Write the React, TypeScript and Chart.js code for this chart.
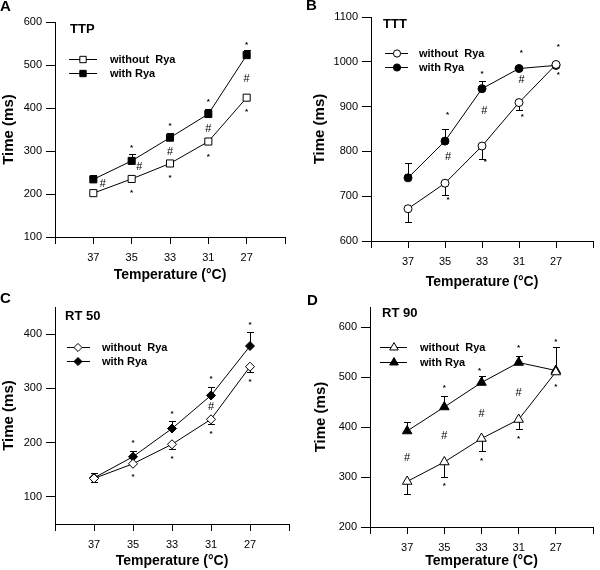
import React, { useEffect, useRef } from 'react';
import { Chart, registerables } from 'chart.js';
Chart.register(...registerables);

const FONT = '"Liberation Sans", Arial, sans-serif';

// shared category labels (x axis)
const tempLabels = ['37', '35', '33', '31', '27'];
const legendLabels = ['without  Rya', 'with Rya'];

// Panel A – TTP
const ttpWithout = [202, 235, 271, 322, 424];
const ttpWith = [234, 277, 331, 386, 523];
const ttpWithHi = [244, 292, 343, 398, 536];
const ttpWithoutLo: (number | null)[] = [null, null, null, null, null];
const ttpStars = [[1, 314], [2, 364], [3, 421], [4, 553], [1, 208], [2, 244], [3, 291], [4, 397]];
const ttpHashes = [[0.25, 225], [1.2, 264], [2, 300], [3, 354], [4, 469]];
const ttpTicks = [100, 200, 300, 400, 500, 600];

// Panel B – TTT
const tttWithout = [672, 729, 812, 909, 994];
const tttWith = [741, 823, 940, 985, 992];
const tttWithHi: (number | null)[] = [773, 851, 957, null, null];
const tttWithoutLo: (number | null)[] = [642, 702, 784, 892, null];
const tttStars = [[1.07, 887], [2, 979], [3.06, 1026], [4.06, 1038], [1.08, 698], [2.09, 782], [3.09, 883], [4.06, 976]];
const tttHashes = [[1.08, 790], [2.06, 893], [3.07, 962]];
const tttTicks = [600, 700, 800, 900, 1000, 1100];

// Panel C – RT 50
const rt50Without = [134, 161, 197, 243, 340];
const rt50With = [135, 174, 226, 287, 378];
const rt50WithHi = [144, 185, 240, 302, 404];
const rt50WithoutLo: (number | null)[] = [128, null, 188, 234, 330];
const rt50Stars = [[1, 205], [2, 258], [3, 322], [4, 421], [1, 141], [2, 174], [3, 221], [4, 317]];
const rt50Hashes = [[3, 267]];
const rt50Ticks = [100, 200, 300, 400];

// Panel D – RT 90
const rt90Without = [291, 330, 377, 415, 510];
const rt90With = [392, 440, 489, 529, 513];
const rt90WithHi = [410, 462, 502, 542, 560];
const rt90WithoutLo: (number | null)[] = [266, 301, 353, 396, null];
const rt90Stars = [[1, 484], [1.95, 517], [3, 563], [4, 575], [1, 288], [2, 338], [3, 381], [4, 485]];
const rt90Hashes = [[0, 341], [1, 385], [2, 428], [3, 470]];
const rt90Ticks = [200, 300, 400, 500, 600];

type Panel = {
  letter: string; title: string;
  without: number[]; withR: number[]; withHi: (number | null)[]; withoutLo: (number | null)[];
  stars: number[][]; hashes: number[][]; yTicks: number[]; yMin: number; yMax: number;
  style: string; r: number;
  left: number; top: number; w: number; h: number;
  area: { left: number; right: number; top: number; bottom: number };
  titlePos: [number, number]; letterPos: [number, number];
  legend: { x1: number; x2: number; mx: number; y1: number; y2: number; tx: number };
  yTitlePad: number; xTitlePad: number;
};

const panels: Panel[] = [
  {
    letter: 'A', title: 'TTP', without: ttpWithout, withR: ttpWith, withHi: ttpWithHi, withoutLo: ttpWithoutLo,
    stars: ttpStars, hashes: ttpHashes, yTicks: ttpTicks, yMin: 100, yMax: 600, style: 'rect', r: 5,
    left: 0, top: 0, w: 300, h: 285, area: { left: 55, right: 285, top: 22, bottom: 237 },
    titlePos: [70, 29], letterPos: [0, 11], legend: { x1: 69, x2: 97, mx: 83, y1: 59, y2: 73, tx: 110 },
    yTitlePad: 0, xTitlePad: 1,
  },
  {
    letter: 'B', title: 'TTT', without: tttWithout, withR: tttWith, withHi: tttWithHi, withoutLo: tttWithoutLo,
    stars: tttStars, hashes: tttHashes, yTicks: tttTicks, yMin: 600, yMax: 1100, style: 'circle', r: 4,
    left: 300, top: 0, w: 300, h: 292, area: { left: 71, right: 297, top: 17, bottom: 241 },
    titlePos: [83, 24], letterPos: [6, 10], legend: { x1: 85, x2: 108, mx: 97, y1: 53, y2: 67, tx: 119 },
    yTitlePad: 11, xTitlePad: 1,
  },
  {
    letter: 'C', title: 'RT 50', without: rt50Without, withR: rt50With, withHi: rt50WithHi, withoutLo: rt50WithoutLo,
    stars: rt50Stars, hashes: rt50Hashes, yTicks: rt50Ticks, yMin: 50, yMax: 450, style: 'rectRot', r: 4.5,
    left: 0, top: 285, w: 300, h: 285, area: { left: 55, right: 289, top: 22, bottom: 239 },
    titlePos: [65, 31], letterPos: [0, 18], legend: { x1: 67, x2: 90, mx: 78, y1: 62, y2: 76, tx: 102 },
    yTitlePad: 0, xTitlePad: 0,
  },
  {
    letter: 'D', title: 'RT 90', without: rt90Without, withR: rt90With, withHi: rt90WithHi, withoutLo: rt90WithoutLo,
    stars: rt90Stars, hashes: rt90Hashes, yTicks: rt90Ticks, yMin: 200, yMax: 640, style: 'triangle', r: 5.5,
    left: 300, top: 285, w: 300, h: 285, area: { left: 70, right: 298, top: 22, bottom: 242 },
    titlePos: [82, 28], letterPos: [7, 20], legend: { x1: 80, x2: 107, mx: 94, y1: 62, y2: 77, tx: 120 },
    yTitlePad: 12, xTitlePad: 0,
  },
];

function drawMarker(ctx: CanvasRenderingContext2D, style: string, x: number, y: number, r: number, fill: string) {
  ctx.beginPath();
  if (style === 'rect') {
    const s = Math.SQRT1_2 * r;
    ctx.rect(x - s, y - s, 2 * s, 2 * s);
  } else if (style === 'circle') {
    ctx.arc(x, y, r, 0, Math.PI * 2);
  } else if (style === 'rectRot') {
    ctx.moveTo(x - r, y); ctx.lineTo(x, y - r); ctx.lineTo(x + r, y); ctx.lineTo(x, y + r); ctx.closePath();
  } else {
    const a = Math.PI * 2 / 3;
    ctx.moveTo(x, y - r);
    ctx.lineTo(x + Math.sin(a) * r, y - Math.cos(a) * r);
    ctx.lineTo(x + Math.sin(2 * a) * r, y - Math.cos(2 * a) * r);
    ctx.closePath();
  }
  ctx.fillStyle = fill; ctx.fill();
  ctx.strokeStyle = '#000'; ctx.lineWidth = 1; ctx.stroke();
}

function makePlugin(p: Panel) {
  return {
    id: 'annot' + p.letter,
    beforeDatasetsDraw(chart: any) {
      const { ctx } = chart; const xs = chart.scales.x; const ys = chart.scales.y;
      ctx.save(); ctx.strokeStyle = '#000'; ctx.lineWidth = 1;
      const series: [number[], (number | null)[]][] = [[p.withR, p.withHi], [p.without, p.withoutLo]];
      series.forEach(([vals, ends]) => {
        vals.forEach((v, i) => {
          const e = ends[i];
          if (e == null) return;
          const px = Math.round(xs.getPixelForValue(i)) + 0.5;
          const y0 = ys.getPixelForValue(v);
          const y1 = Math.round(ys.getPixelForValue(e)) + 0.5;
          ctx.beginPath(); ctx.moveTo(px, y0); ctx.lineTo(px, y1);
          ctx.moveTo(px - 3.5, y1); ctx.lineTo(px + 3.5, y1); ctx.stroke();
        });
      });
      ctx.restore();
    },
    afterDraw(chart: any) {
      const { ctx } = chart; const xs = chart.scales.x; const ys = chart.scales.y;
      ctx.save();
      ctx.fillStyle = '#000'; ctx.textAlign = 'center'; ctx.textBaseline = 'alphabetic';
      ctx.font = `bold 8px ${FONT}`;
      p.stars.forEach(([xv, yv]) => ctx.fillText('*', xs.getPixelForValue(xv), ys.getPixelForValue(yv) + 4.6));
      ctx.font = `11px ${FONT}`;
      p.hashes.forEach(([xv, yv]) => ctx.fillText('#', xs.getPixelForValue(xv), ys.getPixelForValue(yv) + 4));
      // panel letter & title
      ctx.textAlign = 'left';
      ctx.font = `bold 15px ${FONT}`;
      ctx.fillText(p.letter, p.letterPos[0], p.letterPos[1]);
      ctx.textBaseline = 'middle';
      ctx.font = `bold 13px ${FONT}`;
      ctx.fillText(p.title, p.titlePos[0], p.titlePos[1]);
      // legend
      const L = p.legend;
      [L.y1, L.y2].forEach((y, k) => {
        ctx.beginPath(); ctx.strokeStyle = '#000'; ctx.lineWidth = 1;
        ctx.moveTo(L.x1, y + 0.5); ctx.lineTo(L.x2, y + 0.5); ctx.stroke();
        drawMarker(ctx, p.style, L.mx, y + 0.5, p.r * 0.9, k === 0 ? '#fff' : '#000');
        ctx.fillStyle = '#000'; ctx.font = `bold 11px ${FONT}`; ctx.textBaseline = 'middle';
        ctx.fillText(legendLabels[k], L.tx, y + 0.5);
      });
      ctx.restore();
    },
  };
}

function makeConfig(p: Panel): any {
  const ds = (vals: number[], k: number) => ({
    label: legendLabels[k],
    data: vals.map((v, i) => ({ x: i, y: v })),
    borderColor: '#000', borderWidth: 1, tension: 0, fill: false,
    pointStyle: p.style, pointRadius: p.r, pointBorderWidth: 1,
    pointBackgroundColor: k === 0 ? '#fff' : '#000', pointBorderColor: '#000',
  });
  return {
    type: 'line',
    data: { datasets: [ds(p.without, 0), ds(p.withR, 1)] },
    options: {
      animation: false, responsive: false, maintainAspectRatio: false,
      layout: { padding: { left: 0, top: p.area.top, right: p.w - p.area.right, bottom: 0 } },
      plugins: { legend: { display: false }, tooltip: { enabled: false } },
      scales: {
        x: {
          type: 'linear', min: -1, max: 5,
          afterBuildTicks: (s: any) => { s.ticks = [-1, 0, 1, 2, 3, 4, 5].map((v) => ({ value: v })); },
          afterFit: (s: any) => { s.height = p.h - p.area.bottom; },
          ticks: {
            callback: (v: number) => tempLabels[v] ?? '', autoSkip: false, maxRotation: 0,
            font: { family: FONT, size: 11 }, color: '#000', padding: 7,
          },
          grid: { drawOnChartArea: false, drawTicks: true, tickLength: 7, color: '#000' },
          border: { color: '#000', width: 1 },
          title: {
            display: true, text: 'Temperature (°C)', color: '#000',
            font: { family: FONT, size: 14, weight: 'bold' }, padding: { top: 0, bottom: p.xTitlePad },
          },
        },
        y: {
          type: 'linear', min: p.yMin, max: p.yMax,
          afterBuildTicks: (s: any) => { s.ticks = p.yTicks.map((v) => ({ value: v })); },
          afterFit: (s: any) => { s.width = p.area.left; },
          ticks: {
            callback: (v: number) => String(v),
            font: { family: FONT, size: 11 }, color: '#000', padding: 4,
          },
          grid: { drawOnChartArea: false, drawTicks: true, tickLength: 9, color: '#000' },
          border: { color: '#000', width: 1 },
          title: {
            display: true, text: 'Time (ms)', color: '#000',
            font: { family: FONT, size: 15, weight: 'bold' }, padding: { top: p.yTitlePad, bottom: 0 },
          },
        },
      },
    },
    plugins: [makePlugin(p)],
  };
}

function PanelChart({ p }: { p: Panel }) {
  const ref = useRef<HTMLCanvasElement>(null);
  useEffect(() => {
    if (!ref.current) return;
    const chart = new Chart(ref.current, makeConfig(p));
    return () => chart.destroy();
  }, [p]);
  return (
    <canvas
      ref={ref}
      width={p.w}
      height={p.h}
      style={{ position: 'absolute', left: p.left, top: p.top, width: p.w, height: p.h }}
    />
  );
}

export default function App() {
  return (
    <div style={{ position: 'fixed', left: 0, top: 0, width: 600, height: 570, background: '#fff', overflow: 'hidden' }}>
      {panels.map((p) => <PanelChart key={p.letter} p={p} />)}
    </div>
  );
}
